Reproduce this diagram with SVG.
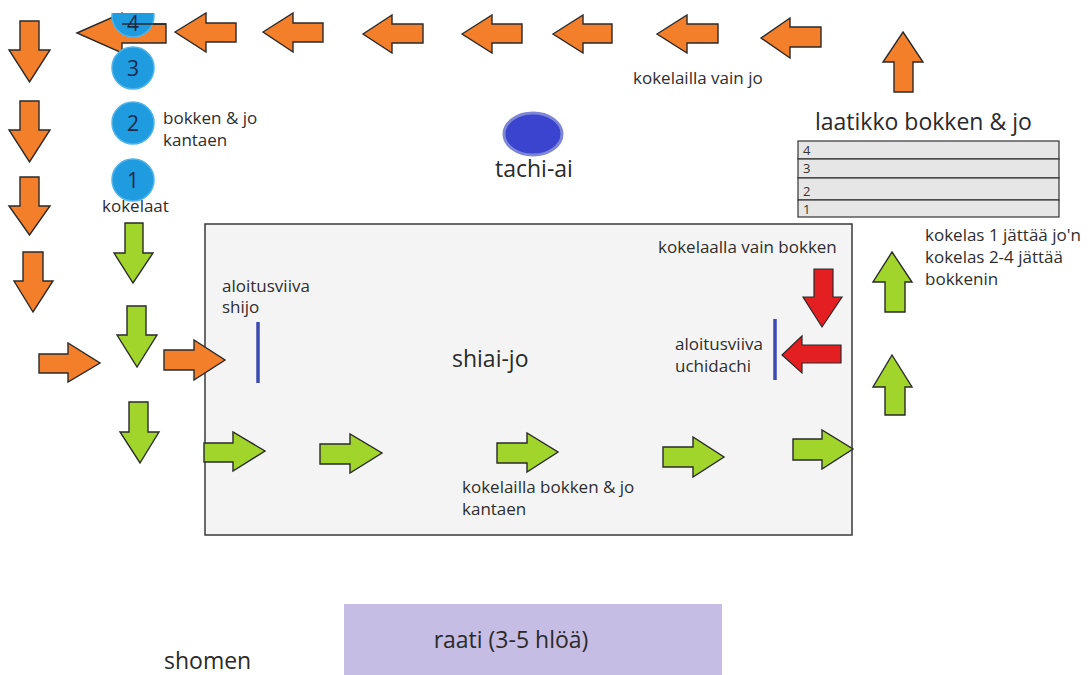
<svg xmlns="http://www.w3.org/2000/svg" width="1092" height="675" viewBox="0 0 1092 675">
<style>
.bg{fill:#ffffff}
.or{fill:#f47f2a;stroke:#2a2a2a;stroke-width:1.4;stroke-linejoin:miter}
.gr{fill:#a2d52b;stroke:#2a2a2a;stroke-width:1.4}
.rd{fill:#e31f22;stroke:#2a2a2a;stroke-width:1.2}
.ball{fill:#1f9be0;stroke:#4fb3ea;stroke-width:1.5}
.num{font-family:"Open Sans","DejaVu Sans",sans-serif;font-size:21px;fill:#1b2a4a;text-anchor:middle}
.sm{font-family:"Open Sans","DejaVu Sans",sans-serif;font-size:17px;fill:#2e2e2e}
.lg{font-family:"Open Sans","DejaVu Sans",sans-serif;font-size:23px;fill:#2a2a2a}
.tbl{fill:#e6e6e6;stroke:#333333;stroke-width:1.2}
.tn{font-family:"Open Sans","DejaVu Sans",sans-serif;font-size:13px;fill:#333333}
.vline{stroke:#3d4bb0;stroke-width:3.5}
</style>
<defs>
<clipPath id="topclip"><rect x="0" y="13" width="1092" height="662"/></clipPath>
<clipPath id="ball4clip"><rect x="100" y="13" width="60" height="24"/></clipPath>
</defs>
<rect class="bg" x="0" y="0" width="1092" height="675"/>

<g id="shiai-jo">
<rect x="205" y="224" width="647" height="311" fill="#f4f4f4" stroke="#3a3a3a" stroke-width="1.5"/>
<text class="lg" x="452" y="367" font-size="26">shiai-jo</text>
</g>

<g id="raati">
<rect x="344" y="604" width="378" height="71" fill="#c5bde3"/>
<text class="lg" x="511" y="648" font-size="21" text-anchor="middle">raati (3-5 hlöä)</text>
</g>

<g id="shomen"><text class="lg" x="164" y="669" font-size="21">shomen</text></g>

<g id="tachi-ai">
<ellipse cx="533" cy="134" rx="29" ry="21" fill="#3a44cf" stroke="#7d87d6" stroke-width="3"/>
<text class="lg" x="495" y="177">tachi-ai</text>
</g>

<g id="laatikko">
<text class="lg" x="815" y="130">laatikko bokken &amp; jo</text>
<rect class="tbl" x="798" y="141" width="261" height="18"/>
<rect class="tbl" x="798" y="159" width="261" height="19"/>
<rect class="tbl" x="798" y="178" width="261" height="22"/>
<rect class="tbl" x="798" y="200" width="261" height="17"/>
<text class="tn" x="803" y="155">4</text>
<text class="tn" x="803" y="173">3</text>
<text class="tn" x="803" y="196">2</text>
<text class="tn" x="803" y="214">1</text>
</g>

<g id="shijo-line">
<line class="vline" x1="258" y1="322" x2="258" y2="383"/>
<text class="sm" x="222" y="292">aloitusviiva</text>
<text class="sm" x="222" y="313">shijo</text>
</g>

<g id="uchidachi-line">
<line class="vline" x1="775" y1="319" x2="775" y2="380"/>
<text class="sm" x="675" y="350">aloitusviiva</text>
<text class="sm" x="675" y="372">uchidachi</text>
</g>

<g id="labels">
<text class="sm" x="633" y="84">kokelailla vain jo</text>
<text class="sm" x="163" y="124">bokken &amp; jo</text>
<text class="sm" x="163" y="146">kantaen</text>
<text class="sm" x="102" y="212">kokelaat</text>
<text class="sm" x="658" y="253">kokelaalla vain bokken</text>
<text class="sm" x="925" y="241">kokelas 1 jättää jo'n</text>
<text class="sm" x="925" y="263">kokelas 2-4 jättää</text>
<text class="sm" x="925" y="285">bokkenin</text>
<text class="sm" x="462" y="493">kokelailla bokken &amp; jo</text>
<text class="sm" x="462" y="515">kantaen</text>
</g>

<g id="connectors">
<!-- top row, left-pointing orange -->
<polygon class="or" points="77,33 122,13 122,24 166,24 166,43 122,43 122,53"/>
<polygon class="or" points="175,32 206,13 206,23 236,23 236,42 206,42 206,52"/>
<polygon class="or" points="263,32 293,13 293,23 323,23 323,42 293,42 293,52"/>
<polygon class="or" points="363,34 392,15 392,24 423,24 423,43 392,43 392,53"/>
<polygon class="or" points="462,34 492,15 492,24 522,24 522,43 492,43 492,53"/>
<polygon class="or" points="553,34 583,15 583,24 612,24 612,43 583,43 583,53"/>
<polygon class="or" points="657,34 687,15 687,24 718,24 718,43 687,43 687,53"/>
<polygon class="or" points="761,38 790,18 790,27 821,27 821,47 790,47 790,58"/>
<!-- up orange -->
<polygon class="or" points="903,32 923,62 913,62 913,92 894,92 894,62 883,62"/>
<!-- left column, down orange -->
<polygon class="or" points="20,21 39,21 39,50 50,50 29.5,82 9,50 20,50"/>
<polygon class="or" points="20,101 39,101 39,130 50,130 29.5,162 9,130 20,130"/>
<polygon class="or" points="20,177 39,177 39,206 50,206 29.5,235 9,206 20,206"/>
<polygon class="or" points="23,252 43,252 43,281 53,281 33,312 14,281 23,281"/>
<!-- right-pointing orange -->
<polygon class="or" points="39,354 68,354 68,343 100,363 68,382 68,373 39,373"/>
<polygon class="or" points="164,350 194,350 194,340 225,360 194,380 194,370 164,370"/>
<!-- green down -->
<polygon class="gr" points="125,223 143,223 143,253 153,253 133,283 114,253 125,253"/>
<polygon class="gr" points="127,306 146,306 146,335 157,335 137,367 117,335 127,335"/>
<polygon class="gr" points="129,402 148,402 148,432 159,432 140,463 120,432 129,432"/>
<!-- green right in shiai-jo -->
<polygon class="gr" points="204,443 233,443 233,432 265,451 233,471 233,462 204,462"/>
<polygon class="gr" points="320,444 350,444 350,434 382,453 350,473 350,464 320,464"/>
<polygon class="gr" points="497,443 527,443 527,433 558,452 527,472 527,463 497,463"/>
<polygon class="gr" points="663,447 693,447 693,437 724,457 693,477 693,467 663,467"/>
<polygon class="gr" points="793,439 822,439 822,430 853,449 822,469 822,460 793,460"/>
<!-- green up -->
<polygon class="gr" points="892,252 912,282 905,282 905,312 885,312 885,282 873,282"/>
<polygon class="gr" points="892,355 912,387 905,387 905,415 885,415 885,387 873,387"/>
<!-- red -->
<polygon class="rd" points="814,269 833,269 833,297 842,297 822,327 803,297 814,297"/>
<polygon class="rd" points="782,355 802,336 802,345 841,345 841,363 802,363 802,373"/>
</g>

<g id="kokelaat">
<g clip-path="url(#ball4clip)"><circle class="ball" cx="133" cy="16" r="21"/></g>
<line x1="122" y1="24" x2="166" y2="24" stroke="#2a2a2a" stroke-width="1.4"/>
<text class="num" x="133" y="31" clip-path="url(#topclip)">4</text>
<circle class="ball" cx="133" cy="68" r="21"/><text class="num" x="133" y="76">3</text>
<circle class="ball" cx="133" cy="123" r="21"/><text class="num" x="133" y="131">2</text>
<circle class="ball" cx="133" cy="180" r="21"/><text class="num" x="133" y="188">1</text>
</g>
</svg>
